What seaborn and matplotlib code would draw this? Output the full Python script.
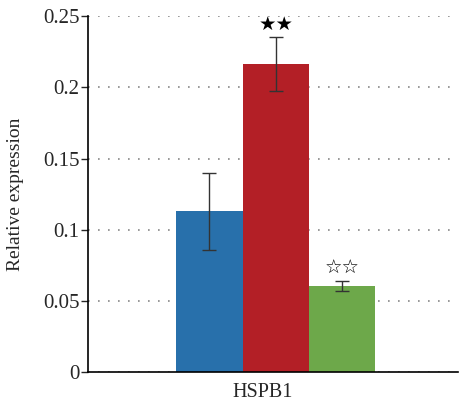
import pandas as pd
import matplotlib.pyplot as plt
import matplotlib.transforms as mtransforms
import seaborn as sns

# data
genes = ["HSPB1", "HSPB1", "HSPB1"]
groups = ["A", "B", "C"]
values = [0.113, 0.2165, 0.0605]
errors = [0.027, 0.019, 0.0035]
marks = ["", "★★", "☆☆"]
colors = ["#2870ab", "#b31f26", "#6da84a"]

df = pd.DataFrame({"gene": genes, "group": groups, "value": values})

sns.set_style("white")
plt.rcParams["font.family"] = ["Liberation Serif", "DejaVu Serif"]

fig = plt.figure(figsize=(4.6, 4.04), dpi=100)
ax = fig.add_axes([0.191, 0.079, 0.805, 0.881])

sns.barplot(data=df, x="gene", y="value", hue="group", palette=colors,
            width=0.53, saturation=1, legend=False, errorbar=None, ax=ax)

# error bars + stars
for bar, v, e, m in zip(ax.patches, values, errors, marks):
    bar.set_edgecolor("none")
    cx = bar.get_x() + bar.get_width() / 2
    ax.errorbar(cx, v, yerr=e, fmt="none", ecolor="#333333", elinewidth=1,
                capsize=5, capthick=1, zorder=4)
    if m:
        ax.text(cx, v + e + 0.002, m, ha="center", va="bottom", fontsize=14,
                family=["DejaVu Sans"], color="black")

ax.set_ylim(0, 0.25)
ax.set_xlim(-0.5, 0.485)
ax.set_yticks([0, 0.05, 0.1, 0.15, 0.2, 0.25])
ax.set_yticklabels(["0", "0.05", "0.1", "0.15", "0.2", "0.25"], fontsize=15)
ax.tick_params(axis="y", length=5, width=1, direction="out", left=True, pad=1)
ax.tick_params(axis="x", length=0, labelsize=14.5, pad=8)
ax.set_xlabel("")
ax.set_ylabel("Relative expression", fontsize=14, labelpad=14)

# the gene label sits a bit left of the group centre
shift = mtransforms.ScaledTranslation(-0.13, 0, fig.dpi_scale_trans)
for lab in ax.get_xticklabels():
    lab.set_transform(lab.get_transform() + shift)

ax.yaxis.grid(True, linestyle=(0, (1, 5)), color="#888888", linewidth=1.2)
ax.set_axisbelow(True)
sns.despine(ax=ax)
for s in ["left", "bottom"]:
    ax.spines[s].set_color("black")
    ax.spines[s].set_linewidth(1.2)

fig.savefig("out.png", dpi=100)
